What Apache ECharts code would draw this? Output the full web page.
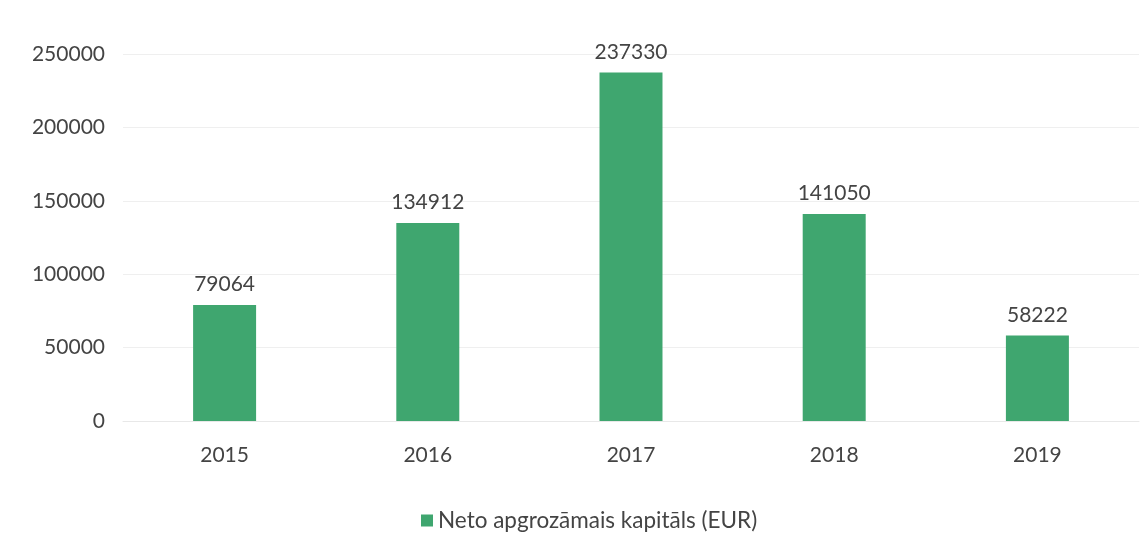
<!DOCTYPE html>
<html>
<head>
<meta charset="utf-8">
<script src="https://cdn.jsdelivr.net/npm/echarts@6/dist/echarts.min.js"></script>
<style>html,body{margin:0;padding:0;background:#fff}#c{width:1141px;height:551px}</style>
</head>
<body>
<div id="c"></div>
<script>
const categories = ['2015', '2016', '2017', '2018', '2019'];
const values = [79064, 134912, 237330, 141050, 58222];
const seriesName = 'Neto apgrozāmais kapitāls (EUR)';
const yMin = 0, yMax = 250000, yInterval = 50000;

const chart = echarts.init(document.getElementById('c'));
const font = 'Lato, "Open Sans", sans-serif';
chart.setOption({
  backgroundColor: '#fff',
  animation: false,
  grid: { left: 123, right: 2, top: 54, bottom: 130 },
  xAxis: {
    type: 'category',
    data: categories,
    axisLine: { lineStyle: { color: '#e8e8e8' } },
    axisTick: { show: false },
    axisLabel: { color: '#444', fontSize: 21, fontFamily: font, margin: 24 }
  },
  yAxis: {
    type: 'value',
    min: yMin, max: yMax, interval: yInterval,
    axisLine: { show: false },
    axisTick: { show: false },
    splitLine: { lineStyle: { color: '#efefef' } },
    axisLabel: { color: '#444', fontSize: 21, fontFamily: font, margin: 18, formatter: v => String(v) }
  },
  legend: {
    bottom: 14, left: 416,
    itemWidth: 12, itemHeight: 12, itemGap: 6,
    icon: 'rect',
    textStyle: { color: '#444', fontSize: 22.5, fontFamily: font }
  },
  series: [{
    name: seriesName,
    type: 'bar',
    data: values,
    barWidth: '31%',
    itemStyle: { color: '#3fa66f' },
    label: { show: true, position: 'top', distance: 10, color: '#444', fontSize: 21, fontFamily: font }
  }]
});
</script>
</body>
</html>
